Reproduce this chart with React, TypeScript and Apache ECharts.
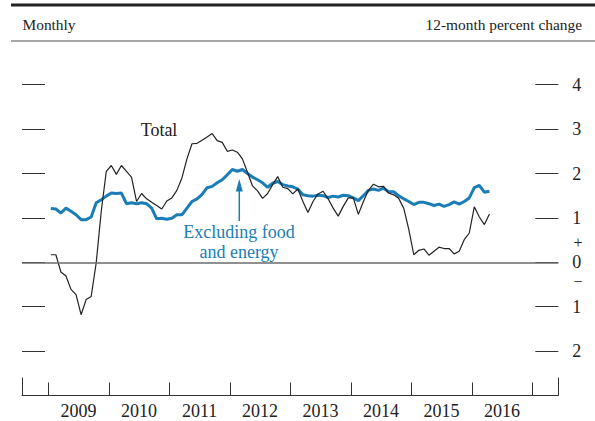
import React, { useEffect, useRef } from "react";
import * as echarts from "echarts";

// Monthly observations, Jan 2009 through Apr 2016 (12-month percent change)
const startYear = 2009;
const totalValues = [
  // 2009
  0.17, 0.17, -0.22, -0.31, -0.61, -0.73, -1.18, -0.84, -0.77, -0.01, 1.15, 2.05,
  // 2010
  2.18, 1.98, 2.18, 2.05, 1.92, 1.37, 1.55, 1.43, 1.35, 1.28, 1.2, 1.38,
  // 2011
  1.45, 1.62, 1.9, 2.33, 2.67, 2.68, 2.75, 2.82, 2.9, 2.74, 2.7, 2.5,
  // 2012
  2.53, 2.48, 2.33, 2.03, 1.72, 1.61, 1.44, 1.55, 1.75, 1.93, 1.69, 1.66,
  // 2013
  1.54, 1.65, 1.37, 1.12, 1.37, 1.54, 1.6, 1.43, 1.22, 1.04, 1.26, 1.45,
  // 2014
  1.45, 1.08, 1.37, 1.62, 1.76, 1.7, 1.71, 1.56, 1.52, 1.44, 1.22, 0.74,
  // 2015
  0.17, 0.27, 0.3, 0.16, 0.25, 0.34, 0.31, 0.31, 0.19, 0.25, 0.51, 0.66,
  // 2016
  1.25, 1.02, 0.85, 1.09,
];
const coreValues = [
  // 2009
  1.21, 1.2, 1.11, 1.22, 1.15, 1.07, 0.96, 0.96, 1.02, 1.34, 1.41, 1.49,
  // 2010
  1.56, 1.55, 1.56, 1.32, 1.34, 1.32, 1.34, 1.32, 1.22, 0.98, 0.99, 0.97,
  // 2011
  0.99, 1.07, 1.07, 1.22, 1.37, 1.43, 1.53, 1.68, 1.71, 1.79, 1.86, 1.97,
  // 2012
  2.09, 2.05, 2.09, 2.0, 1.92, 1.86, 1.79, 1.69, 1.78, 1.82, 1.75, 1.72,
  // 2013
  1.7, 1.65, 1.52, 1.5, 1.49, 1.51, 1.5, 1.46, 1.49, 1.47, 1.51, 1.5,
  // 2014
  1.45, 1.39, 1.5, 1.62, 1.65, 1.62, 1.67, 1.59, 1.59, 1.5, 1.43, 1.37,
  // 2015
  1.3, 1.35, 1.35, 1.32, 1.28, 1.31, 1.26, 1.3, 1.36, 1.31, 1.37, 1.45,
  // 2016
  1.68, 1.73, 1.58, 1.6,
];
const yearTicks = [2009, 2010, 2011, 2012, 2013, 2014, 2015, 2016, 2017];
const yearLabels = [2009, 2010, 2011, 2012, 2013, 2014, 2015, 2016];
const valueTicks = [-2, -1, 0, 1, 2, 3, 4];

const X_MIN = 2008.565;
const X_MAX = 2017.43;
const Y_MIN = -3;
const Y_MAX = 4.5;

const FONT = '"Liberation Serif", "Times New Roman", serif';
const BLUE = "#1a7db6";
const INK = "#222";

function toPoints(values: number[]) {
  return values.map((v, i) => [startYear + (i + 0.5) / 12, v]);
}

export default function App() {
  const ref = useRef<HTMLDivElement>(null);

  useEffect(() => {
    if (!ref.current) return;
    const chart = echarts.init(ref.current, null, { renderer: "svg" });
    const tickStyle = { color: "#333", width: 1 };
    const option: any = {
      animation: false,
      backgroundColor: "#fff",
      grid: { left: 22, right: 36.7, top: 62.5, height: 333 },
      xAxis: [
        {
          type: "value",
          min: X_MIN,
          max: X_MAX,
          position: "bottom",
          axisLine: { show: true, onZero: false, lineStyle: { color: "#333", width: 1 } },
          axisTick: { show: true, inside: true, length: 13, customValues: yearTicks, lineStyle: tickStyle },
          axisLabel: {
            show: true,
            customValues: yearLabels.map((y) => y + 0.5),
            formatter: (v: number) => String(Math.floor(v)),
            fontFamily: FONT,
            fontSize: 18,
            color: INK,
            margin: 6,
          },
          splitLine: { show: false },
        },
        {
          type: "value",
          min: X_MIN,
          max: X_MAX,
          position: "bottom",
          offset: 0,
          axisLine: { show: false, onZero: false },
          axisTick: { show: true, inside: true, length: 18, customValues: [X_MIN, X_MAX], lineStyle: tickStyle },
          axisLabel: { show: false },
          splitLine: { show: false },
        },
      ],
      yAxis: [
        {
          type: "value",
          min: Y_MIN,
          max: Y_MAX,
          position: "left",
          axisLine: { show: false, onZero: false },
          axisTick: { show: true, inside: true, length: 23, customValues: valueTicks, lineStyle: tickStyle },
          axisLabel: { show: false },
          splitLine: { show: false },
        },
        {
          type: "value",
          min: Y_MIN,
          max: Y_MAX,
          position: "right",
          axisLine: { show: false, onZero: false },
          axisTick: { show: true, inside: true, length: 23, customValues: valueTicks, lineStyle: tickStyle },
          axisLabel: {
            show: true,
            customValues: valueTicks,
            formatter: (v: number) => String(Math.abs(v)),
            fontFamily: FONT,
            fontSize: 18,
            lineHeight: 16,
            color: INK,
            margin: 14,
          },
          splitLine: { show: false },
        },
      ],
      series: [
        {
          type: "line",
          name: "Excluding food and energy",
          data: toPoints(coreValues),
          xAxisIndex: 0,
          yAxisIndex: 0,
          symbol: "none",
          showSymbol: false,
          lineStyle: { color: BLUE, width: 3 },
          z: 2,
          markLine: {
            silent: true,
            symbol: ["none", "none"],
            label: { show: false },
            lineStyle: { color: "#6b6b6b", width: 1.6, type: "solid" },
            data: [{ yAxis: 0 }],
          },
        },
        {
          type: "line",
          name: "Total",
          data: toPoints(totalValues),
          xAxisIndex: 0,
          yAxisIndex: 0,
          symbol: "none",
          showSymbol: false,
          lineStyle: { color: INK, width: 1.2 },
          z: 3,
        },
      ],
      graphic: [
        { type: "line", shape: { x1: 11, y1: 5, x2: 595, y2: 5 }, style: { stroke: "#222", lineWidth: 3 } },
        { type: "line", shape: { x1: 11, y1: 41, x2: 595, y2: 41 }, style: { stroke: "#888", lineWidth: 1.5 } },
        {
          type: "text",
          x: 22.5,
          y: 24.5,
          style: { text: "Monthly", fontFamily: FONT, fontSize: 15.4, fill: INK, align: "left", verticalAlign: "middle" },
        },
        {
          type: "text",
          x: 582,
          y: 24.5,
          style: { text: "12-month percent change", fontFamily: FONT, fontSize: 15.4, fill: INK, align: "right", verticalAlign: "middle" },
        },
        {
          type: "text",
          x: 578,
          y: 242,
          style: { text: "+", fontFamily: FONT, fontSize: 16, lineHeight: 12, fill: INK, align: "center", verticalAlign: "middle" },
        },
        {
          type: "text",
          x: 578,
          y: 281,
          style: { text: "\u2212", fontFamily: FONT, fontSize: 16, lineHeight: 12, fill: INK, align: "center", verticalAlign: "middle" },
        },
        {
          type: "text",
          x: 159,
          y: 129.5,
          style: { text: "Total", fontFamily: FONT, fontSize: 18, fill: INK, align: "center", verticalAlign: "middle" },
        },
        {
          type: "text",
          x: 239,
          y: 241.7,
          style: {
            text: "Excluding food\nand energy",
            fontFamily: FONT,
            fontSize: 18,
            lineHeight: 20,
            fill: BLUE,
            align: "center",
            verticalAlign: "middle",
          },
        },
        { type: "line", shape: { x1: 239.3, y1: 190, x2: 239.3, y2: 221 }, style: { stroke: BLUE, lineWidth: 1.5 } },
        {
          type: "polygon",
          shape: { points: [[239.3, 179], [235.8, 191.5], [242.8, 191.5]] },
          style: { fill: BLUE },
        },
      ],
    };
    chart.setOption(option);
    return () => chart.dispose();
  }, []);

  return (
    <div
      ref={ref}
      style={{ position: "fixed", left: 0, top: 0, width: 595, height: 421, background: "#fff" }}
    />
  );
}
